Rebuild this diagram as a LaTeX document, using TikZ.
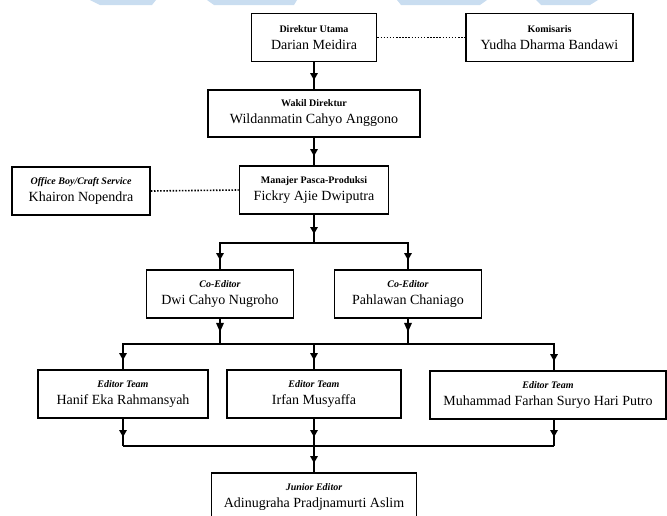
\documentclass[tikz,border=0pt]{standalone}
\usepackage{fontspec}
\setmainfont{Liberation Serif}
\usetikzlibrary{arrows.meta}
\definecolor{wmblue}{RGB}{201,221,240}
\newcommand\rolelab[1]{{\fontsize{10}{12}\selectfont\bfseries #1}}
\newcommand\rolelabit[1]{{\fontsize{10}{12}\selectfont\bfseries\itshape #1}}
\begin{document}
\begin{tikzpicture}[x=1pt,y=-1pt,
  box/.style={draw, line width=1.8pt, minimum height=48pt, inner sep=0pt, align=center, font=\fontsize{14}{17}\selectfont},
  conn/.style={line width=1.5pt},
  tipline/.style={line width=1.5pt, -{Triangle[width=7.5pt,length=7pt]}},
  dotline/.style={line width=1.6pt, dash pattern=on 1.5pt off 1.6pt}]
\useasboundingbox (0,0) rectangle (667,515);
\clip (0,0) rectangle (667,515);
% watermark fragments
\fill[wmblue] (90,0) -- (156,0) -- (152,5) -- (100,5) -- cycle;
\fill[wmblue] (207,0) -- (297,0) -- (294,5) -- (214,5) -- cycle;
\fill[wmblue] (397,0) -- (487,0) -- (480,5) -- (401,5) -- cycle;
\fill[wmblue] (536,0) -- (598,0) -- (590,5) -- (541,5) -- cycle;
% nodes
\node[box, minimum width=125pt] (du) at (314,37.5) {\rolelab{Direktur Utama}\\Darian Meidira};
\node[box, minimum width=167pt] (kom) at (549.5,37.5) {\rolelab{Komisaris}\\Yudha Dharma Bandawi};
\node[box, minimum width=212pt, minimum height=47pt] (wd) at (314,113.5) {\rolelab{Wakil Direktur}\\Wildanmatin Cahyo Anggono};
\node[box, minimum width=149pt] (mp) at (314,190) {\rolelab{Manajer Pasca-Produksi}\\Fickry Ajie Dwiputra};
\node[box, minimum width=138pt] (ob) at (81,191) {\rolelabit{Office Boy/Craft Service}\\Khairon Nopendra};
\node[box, minimum width=147pt] (ce1) at (220,294) {\rolelabit{Co-Editor}\\Dwi Cahyo Nugroho};
\node[box, minimum width=147pt] (ce2) at (408,294) {\rolelabit{Co-Editor}\\Pahlawan Chaniago};
\node[box, minimum width=170pt] (et1) at (123,394) {\rolelabit{Editor Team}\\Hanif Eka Rahmansyah};
\node[box, minimum width=174pt] (et2) at (314,394) {\rolelabit{Editor Team}\\Irfan Musyaffa};
\node[box, minimum width=236pt] (et3) at (548,395) {\rolelabit{Editor Team}\\Muhammad Farhan Suryo Hari Putro};
\node[box, minimum width=205pt] (je) at (314,497) {\rolelabit{Junior Editor}\\Adinugraha Pradjnamurti Aslim};
% junctions
\coordinate (h1) at (314,243);
\coordinate (h2) at (314,344);
\coordinate (h3) at (314,446);
% dotted links
\draw[dotline] (du.east) -- (kom.west);
\draw[dotline] (ob.east) -- (mp.west);
% lines
\draw[conn] (du.south) -- (wd.north);
\draw[conn] (wd.south) -- (mp.north);
\draw[conn] (mp.south) -- (h1);
\draw[conn] (h1) -| (ce1.north);
\draw[conn] (h1) -| (ce2.north);
\draw[conn] (ce1.south) -- (ce1.south |- h2);
\draw[conn] (ce2.south) -- (ce2.south |- h2);
\draw[conn] (h2) -| (et1.north);
\draw[conn] (h2) -- (et2.north);
\draw[conn] (h2) -| ([xshift=6pt]et3.north);
\draw[conn] (et1.south) -- (et1.south |- h3);
\draw[conn] (et2.south) -- (et2.south |- h3);
\draw[conn] ([xshift=6pt]et3.south) -- ([xshift=6pt]et3.south |- h3);
\draw[conn] (et1.south |- h3) -- ([xshift=6pt]et3.south |- h3);
\draw[conn] (h3) -- (je.north);
% arrow tips, placed a little before the end of each line
\draw[tipline] (du.south) -- ([yshift=9pt]wd.north);
\draw[tipline] (wd.south) -- ([yshift=9pt]mp.north);
\draw[tipline] (mp.south) -- ([yshift=9pt]h1);
\draw[tipline] (h1) -| ([yshift=9pt]ce1.north);
\draw[tipline] (h1) -| ([yshift=9pt]ce2.north);
\fill[black] ([shift={(-4,4)}]ce1.south) -- ++(8,0) -- ++(-4,9) -- cycle;
\fill[black] ([shift={(-4,4)}]ce2.south) -- ++(8,0) -- ++(-4,9) -- cycle;
\draw[tipline] (h2) -| ([yshift=9pt]et1.north);
\draw[tipline] (h2) -- ([yshift=9pt]et2.north);
\draw[tipline] (h2) -| ([xshift=6pt,yshift=9pt]et3.north);
\draw[tipline] (et1.south) -- ([yshift=9pt]et1.south |- h3);
\draw[tipline] (et2.south) -- ([yshift=9pt]et2.south |- h3);
\draw[tipline] ([xshift=6pt]et3.south) -- ([xshift=6pt,yshift=9pt]et3.south |- h3);
\draw[tipline] (h3) -- ([yshift=9pt]je.north);
\end{tikzpicture}
\end{document}
